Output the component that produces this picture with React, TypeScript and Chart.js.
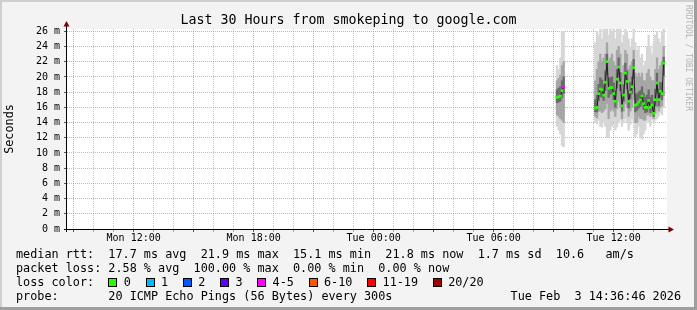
import React, { useEffect, useRef } from 'react';
import { Chart, registerables } from 'chart.js';

Chart.register(...registerables);

const MONO = '"DejaVu Sans Mono", monospace';

const TITLE = 'Last 30 Hours from smokeping to google.com';
const Y_TITLE = 'Seconds';
const WINDOW_MINUTES = 1800; // 30 hours, window starts Mon 08:40

// sample times: minutes after Mon 08:40 (5 minute steps)
const sampleMinutes = [
  1470, 1475, 1480, 1485, 1490,
  1585, 1590, 1595, 1600, 1605, 1610, 1615, 1620, 1625, 1630, 1635, 1640, 1645, 1650,
  1655, 1660, 1665, 1670, 1675, 1680, 1685, 1690, 1695, 1700, 1705, 1710, 1715, 1720,
  1725, 1730, 1735, 1740, 1745, 1750, 1755, 1760, 1765, 1770, 1775, 1780, 1785, 1790,
];

// median rtt (ms)
const medianRtt = [
  17.3, 17.4, 17.5, 18.2, 18.7,
  15.9, 16.0, 17.8, 18.4, 18.3, 17.6, 19.3, 22.0, 18.5, 18.6, 18.6, 17.8, 16.8, 19.7,
  21.3, 19.2, 16.2, 17.6, 20.5, 19.4, 16.8, 18.0, 18.7, 21.2, 16.3, 16.4, 16.7, 17.0,
  17.5, 16.5, 16.0, 16.0, 16.9, 16.0, 16.3, 15.2, 17.0, 19.2, 17.0, 18.1, 17.8, 21.8,
];

// lost pings out of 20
const lossCount = [
  0, 0, 0, 0, 4,
  0, 0, 0, 0, 0, 0, 0, 0, 0, 0, 0, 0, 0, 0,
  0, 0, 0, 0, 0, 0, 0, 0, 0, 0, 0, 0, 0, 0,
  0, 0, 0, 0, 0, 0, 0, 0, 0, 0, 0, 0, 0, 0,
];

// smoke: distribution of the 20 pings (ms)
const smokeMin = [
  13.5, 13.0, 12.5, 11.0, 10.8,
  14.0, 13.8, 14.3, 13.5, 13.4, 14.0, 13.5, 12.0, 12.0, 13.0, 13.5, 14.3, 13.0, 13.4,
  14.0, 14.3, 13.5, 14.0, 14.5, 14.0, 13.0, 13.8, 14.5, 14.0, 12.1, 12.5, 13.5, 12.0,
  11.8, 12.5, 13.0, 14.3, 14.0, 13.5, 14.4, 14.0, 14.3, 14.5, 14.8, 15.3, 15.0, 16.0,
];
const smokeP10 = [
  15.0, 14.8, 14.5, 14.3, 14.0,
  14.8, 14.6, 15.5, 15.5, 15.3, 15.5, 15.8, 16.5, 14.5, 15.5, 15.8, 15.5, 14.8, 15.8,
  16.8, 16.0, 14.5, 15.5, 16.5, 16.0, 14.8, 15.5, 16.0, 17.0, 14.0, 14.0, 14.8, 14.5,
  14.5, 14.3, 14.3, 15.0, 15.0, 14.8, 15.0, 14.5, 15.2, 16.0, 15.5, 16.0, 16.2, 17.5,
];
const smokeP30 = [
  16.6, 16.7, 16.8, 17.3, 17.8,
  15.4, 15.4, 16.9, 17.4, 17.3, 16.9, 18.2, 20.2, 17.3, 17.7, 17.8, 17.0, 16.0, 18.5,
  20.0, 18.2, 15.5, 16.8, 19.2, 18.4, 15.9, 17.1, 17.8, 19.8, 15.4, 15.6, 15.9, 16.1,
  16.5, 15.7, 15.3, 15.4, 16.0, 15.3, 15.6, 14.8, 16.2, 18.0, 16.2, 17.3, 17.0, 20.2,
];
const smokeP70 = [
  18.3, 18.5, 18.7, 19.5, 20.0,
  17.0, 17.6, 19.0, 19.9, 19.6, 19.0, 20.8, 23.0, 19.9, 19.9, 20.0, 19.2, 18.2, 21.0,
  22.5, 20.6, 17.6, 19.0, 21.8, 20.8, 18.2, 19.3, 20.0, 22.3, 17.8, 17.7, 18.0, 18.2,
  18.7, 17.8, 17.3, 17.6, 18.3, 17.3, 17.6, 16.8, 18.4, 20.5, 18.4, 19.3, 19.2, 22.6,
];
const smokeP90 = [
  19.5, 19.8, 20.2, 21.5, 22.0,
  19.5, 21.0, 22.0, 23.0, 22.0, 22.5, 23.0, 24.5, 22.0, 22.5, 23.0, 22.0, 21.5, 23.5,
  24.0, 23.0, 20.5, 21.5, 23.5, 23.0, 21.0, 21.5, 22.0, 23.5, 20.5, 20.0, 20.5, 20.0,
  20.5, 19.5, 19.5, 20.5, 21.0, 20.0, 19.5, 19.5, 21.0, 22.5, 21.0, 21.5, 22.0, 24.0,
];
const smokeMax = [
  21.5, 21.0, 22.5, 26.0, 26.0,
  24.5, 26.0, 25.5, 26.3, 25.0, 26.3, 26.3, 26.3, 25.5, 26.3, 26.0, 26.3, 25.0, 26.3,
  26.3, 26.3, 24.5, 25.5, 26.3, 26.0, 25.0, 24.0, 25.0, 26.3, 24.5, 23.5, 24.0, 22.5,
  23.0, 21.5, 22.0, 24.0, 25.5, 24.0, 23.0, 24.5, 25.5, 26.0, 25.0, 24.5, 26.0, 26.3,
];

// axis
const xLabelMinutes = [200, 560, 920, 1280, 1640];
const xLabels = ['Mon 12:00', 'Mon 18:00', 'Tue 00:00', 'Tue 06:00', 'Tue 12:00'];
const firstHourMinute = 20; // Mon 09:00
const yAxisMax = 26.3;
const yTickTop = 26;

// legend
const lossLabels = ['0', '1', '2', '3', '4-5', '6-10', '11-19', '20/20'];
const lossColors = ['#26ff00', '#00b8ff', '#0059ff', '#5e00ff', '#ff00ff', '#ff5500', '#ff0000', '#a10000'];
const lossUpper = [0, 1, 2, 3, 5, 10, 19, 20];

const statLines = [
  'median rtt:  17.7 ms avg  21.9 ms max  15.1 ms min  21.8 ms now  1.7 ms sd  10.6   am/s',
  'packet loss: 2.58 % avg  100.00 % max  0.00 % min  0.00 % now',
];
const lossLegendTitle = 'loss color:';
const probeLine = 'probe:       20 ICMP Echo Pings (56 Bytes) every 300s';
const stampText = 'Tue Feb  3 14:36:46 2026';
const watermark = 'RRDTOOL / TOBI OETIKER';

const MAJOR_GRID = 'rgba(230, 90, 90, 0.55)';
const MINOR_GRID = 'rgba(150, 150, 150, 0.55)';

function lossColorFor(n: number) {
  for (let i = 0; i < lossUpper.length; i++) if (n <= lossUpper[i]) return lossColors[i];
  return lossColors[lossColors.length - 1];
}

export default function App() {
  const ref = useRef<HTMLCanvasElement>(null);

  useEffect(() => {
    document.body.style.margin = '0';
    const canvas = ref.current!;

    const medianData: any[] = [];
    const pointColors: string[] = [];
    sampleMinutes.forEach((t, i) => {
      if (i > 0 && t - sampleMinutes[i - 1] > 5) {
        medianData.push({ x: (t + sampleMinutes[i - 1]) / 2, y: null });
        pointColors.push('rgba(0,0,0,0)');
      }
      medianData.push({ x: t, y: medianRtt[i] });
      pointColors.push(lossColorFor(lossCount[i]));
    });
    const band = (lo: number[], hi: number[]) => sampleMinutes.map((t, i) => ({ x: t, y: [lo[i], hi[i]] }));

    const hourTicks: number[] = [];
    for (let m = firstHourMinute; m < WINDOW_MINUTES; m += 60) hourTicks.push(m);
    const isMajorX = (v: number) => ((v - firstHourMinute) / 60) % 3 === 0;

    const barCommon = { grouped: false, barPercentage: 1, categoryPercentage: 1, borderWidth: 0 };

    const rrdPlugin = {
      id: 'rrdDecor',
      beforeDraw(chart: any) {
        const { ctx, chartArea: a, width: W, height: H } = chart;
        ctx.save();
        ctx.fillStyle = '#f3f3f3';
        ctx.fillRect(0, 0, W, H);
        ctx.fillStyle = '#ffffff';
        ctx.fillRect(a.left, a.top, a.right - a.left, a.bottom - a.top);
        ctx.restore();
      },
      afterDraw(chart: any) {
        const { ctx, chartArea: a, width: W, height: H } = chart;
        ctx.save();
        // axes
        ctx.strokeStyle = '#000';
        ctx.lineWidth = 1;
        ctx.beginPath();
        ctx.moveTo(a.left - 0.5, a.bottom + 3);
        ctx.lineTo(a.left - 0.5, a.top - 3);
        ctx.stroke();
        ctx.beginPath();
        ctx.moveTo(a.left - 3, a.bottom + 0.5);
        ctx.lineTo(a.right + 2, a.bottom + 0.5);
        ctx.stroke();
        // arrows
        ctx.fillStyle = '#7f0000';
        ctx.beginPath();
        ctx.moveTo(a.left - 0.5, a.top - 8);
        ctx.lineTo(a.left - 3.5, a.top - 2.5);
        ctx.lineTo(a.left + 2.5, a.top - 2.5);
        ctx.closePath();
        ctx.fill();
        ctx.beginPath();
        ctx.moveTo(a.right + 7, a.bottom + 0.5);
        ctx.lineTo(a.right + 1.5, a.bottom - 2.5);
        ctx.lineTo(a.right + 1.5, a.bottom + 3.5);
        ctx.closePath();
        ctx.fill();

        // title
        ctx.fillStyle = '#000';
        ctx.font = `13.3px ${MONO}`;
        ctx.textAlign = 'center';
        ctx.textBaseline = 'alphabetic';
        ctx.fillText(TITLE, W / 2, 24);

        // legend
        ctx.font = `11.8px ${MONO}`;
        ctx.textAlign = 'left';
        const lx = 16;
        ctx.fillText(statLines[0], lx, 258);
        ctx.fillText(statLines[1], lx, 272);
        ctx.fillText(lossLegendTitle, lx, 286);
        let bx = 108.3;
        lossLabels.forEach((lab, i) => {
          ctx.fillStyle = '#000';
          ctx.fillRect(Math.round(bx), 278, 9, 9);
          ctx.fillStyle = lossColors[i];
          ctx.fillRect(Math.round(bx) + 1, 279, 7, 7);
          ctx.fillStyle = '#000';
          const tx = bx + 15.5;
          ctx.fillText(lab, tx, 286);
          bx = tx + ctx.measureText(lab).width + 14.6;
        });
        ctx.fillText(probeLine, lx, 300);
        ctx.textAlign = 'right';
        ctx.fillText(stampText, 681, 300);

        // watermark
        ctx.save();
        ctx.fillStyle = '#b4b4b4';
        ctx.font = `8px ${MONO}`;
        ctx.textAlign = 'left';
        ctx.textBaseline = 'middle';
        ctx.translate(688, 5);
        ctx.rotate(Math.PI / 2);
        ctx.fillText(watermark, 0, 0);
        ctx.restore();

        // 3D frame
        ctx.fillStyle = '#cfcfcf';
        ctx.fillRect(0, 0, W, 2);
        ctx.fillRect(0, 0, 2, H);
        ctx.fillStyle = '#9e9e9e';
        ctx.fillRect(0, H - 3, W, 3);
        ctx.fillRect(W - 3, 0, 3, H);
        ctx.restore();
      },
    };

    const chart = new Chart(canvas, {
      type: 'bar',
      data: {
        datasets: [
          {
            type: 'line',
            label: 'median rtt',
            data: medianData,
            borderColor: '#202020',
            borderWidth: 1,
            pointStyle: 'rect',
            pointRadius: 1.9,
            pointBackgroundColor: pointColors,
            pointBorderWidth: 0,
            spanGaps: false,
            order: 0,
          } as any,
          { label: 'smoke 30-70', data: band(smokeP30, smokeP70), backgroundColor: '#6a6a6a', order: 1, ...barCommon } as any,
          { label: 'smoke 10-90', data: band(smokeP10, smokeP90), backgroundColor: '#a6a6a6', order: 2, ...barCommon } as any,
          { label: 'smoke min-max', data: band(smokeMin, smokeMax), backgroundColor: '#d6d6d6', order: 3, ...barCommon } as any,
        ],
      },
      options: {
        responsive: false,
        animation: false,
        events: [],
        layout: { padding: { left: 0, top: 29, right: 30, bottom: 0 } },
        plugins: { legend: { display: false }, tooltip: { enabled: false }, title: { display: false } },
        scales: {
          x: {
            type: 'linear',
            min: 0,
            max: WINDOW_MINUTES,
            offset: false,
            z: 1,
            afterBuildTicks: (s: any) => {
              s.ticks = hourTicks.map((v) => ({ value: v }));
            },
            afterFit: (s: any) => {
              s.height = 81;
            },
            ticks: {
              autoSkip: false,
              maxRotation: 0,
              minRotation: 0,
              padding: 0,
              color: '#000',
              font: { family: MONO, size: 10 },
              callback: (v: any) => {
                const idx = xLabelMinutes.indexOf(Number(v));
                return idx >= 0 ? xLabels[idx] : '';
              },
            },
            grid: {
              offset: false,
              color: (c: any) => (c.tick && isMajorX(c.tick.value) ? MAJOR_GRID : MINOR_GRID),
              lineWidth: 1,
              drawTicks: true,
              tickLength: 3,
              tickColor: (c: any) => (c.tick && isMajorX(c.tick.value) ? '#555' : '#aaa'),
              tickBorderDash: [],
            },
            border: { display: false, dash: [1, 1] },
          } as any,
          y: {
            type: 'linear',
            min: 0,
            max: yAxisMax,
            z: 1,
            afterBuildTicks: (s: any) => {
              const t: any[] = [];
              for (let v = 0; v <= yTickTop; v++) t.push({ value: v });
              s.ticks = t;
            },
            afterFit: (s: any) => {
              s.width = 67;
            },
            ticks: {
              padding: 4,
              color: '#000',
              font: { family: MONO, size: 10 },
              callback: (v: any) => (Number(v) % 2 === 0 ? `${v} m` : ''),
            },
            grid: {
              color: (c: any) => (c.tick && c.tick.value % 2 === 0 ? MAJOR_GRID : MINOR_GRID),
              lineWidth: 1,
              drawTicks: true,
              tickLength: 3,
              tickColor: (c: any) => (c.tick && c.tick.value % 2 === 0 ? '#555' : '#aaa'),
              tickBorderDash: [],
            },
            border: { display: false, dash: [1, 1] },
            title: {
              display: true,
              text: Y_TITLE,
              color: '#000',
              font: { family: MONO, size: 11.8 },
              padding: { top: 3, bottom: 0 },
            },
          } as any,
        },
      },
      plugins: [rrdPlugin],
    });

    return () => chart.destroy();
  }, []);

  return (
    <div style={{ width: 697, height: 310 }}>
      <canvas ref={ref} width={697} height={310} style={{ display: 'block' }} />
    </div>
  );
}
